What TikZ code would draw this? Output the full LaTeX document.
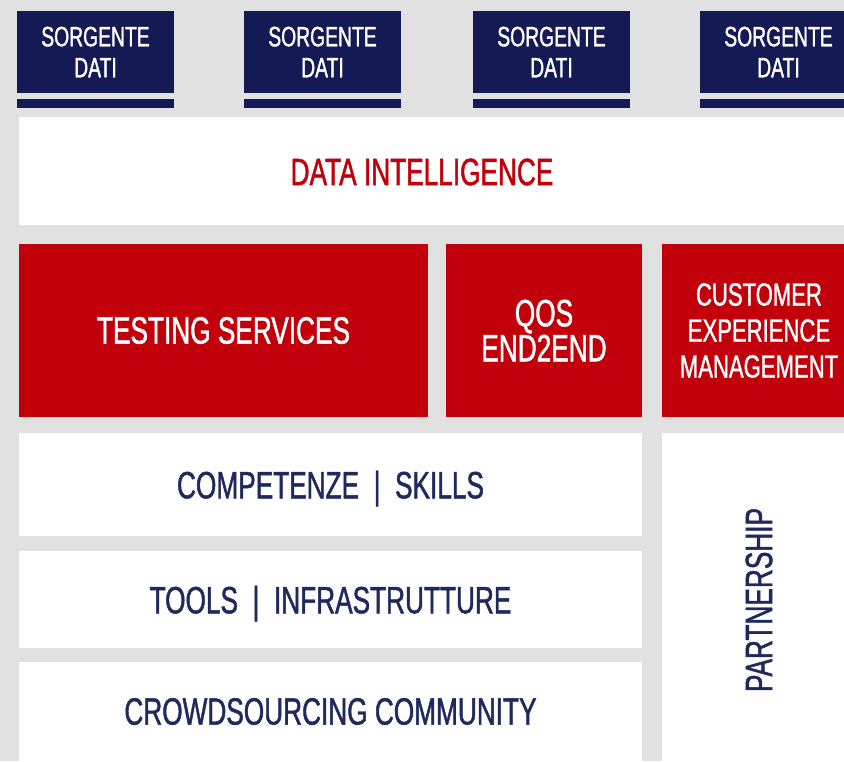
\documentclass[tikz,border=0pt]{standalone}
\usepackage{fontspec}
\newfontfamily\condfont[FakeStretch=0.69,FakeBold=1.2]{Liberation Sans}
\definecolor{navybox}{HTML}{141B54}
\definecolor{navytext}{HTML}{1E2A5E}
\definecolor{redbox}{HTML}{C1000B}
\definecolor{bggray}{HTML}{E1E1E1}
\tikzset{
  block/.style={anchor=north west, inner sep=0pt, outer sep=0pt, align=center,
    font=\condfont\fontsize{38}{35}\selectfont},
  sourcebox/.style={block, fill=navybox, text=white, minimum width=157, minimum height=82,
    font=\condfont\fontsize{28}{31}\selectfont},
  sourcebar/.style={block, fill=navybox, minimum width=157, minimum height=9},
  serviceblock/.style={block, fill=redbox, text=white, minimum height=173},
  layerblock/.style={block, fill=white, text=navytext},
}
\begin{document}
\begin{tikzpicture}[x=1pt,y=-1pt]
	\useasboundingbox (0,0) rectangle (844,761);
	\fill[bggray] (0,0) rectangle (844,761);
	% sorgenti dati
	\foreach \x [count=\i] in {17,244,473,700} {
		\node[sourcebox] (src\i) at (\x,11) {SORGENTE\\DATI};
		\node[sourcebar] (bar\i) at (\x,99) {};
	}
	% data intelligence
	\node[layerblock, minimum width=837, minimum height=108] (dibox) at (19,117) {};
	\node[text=redbox, font=\condfont\fontsize{38}{35}\selectfont, inner sep=0pt] (di) at (422,172) {DATA INTELLIGENCE};
	% servizi
	\node[serviceblock, minimum width=409] (testing) at (19,244) {TESTING SERVICES};
	\node[serviceblock, minimum width=196] (qos) at (446,244) {QOS\\END2END};
	\node[serviceblock, minimum width=194, font=\condfont\fontsize{32}{36}\selectfont] (cem) at (662,244) {CUSTOMER\\EXPERIENCE\\MANAGEMENT};
	% livelli
	\node[layerblock, minimum width=623, minimum height=103, text depth=0pt] (skills) at (19,433) {COMPETENZE \ | \ SKILLS};
	\node[layerblock, minimum width=623, minimum height=97, text depth=0pt] (tools) at (19,551) {TOOLS \ | \ INFRASTRUTTURE};
	\node[layerblock, minimum width=623, minimum height=99] (crowd) at (19,662) {CROWDSOURCING COMMUNITY};
	\node[layerblock, minimum width=194, minimum height=334] (partner) at (662,433) {};
	\node[text=navytext, font=\condfont\fontsize{38}{35}\selectfont, inner sep=0pt, rotate=90] (pt) at (partner.center) {PARTNERSHIP};
\end{tikzpicture}
\end{document}
